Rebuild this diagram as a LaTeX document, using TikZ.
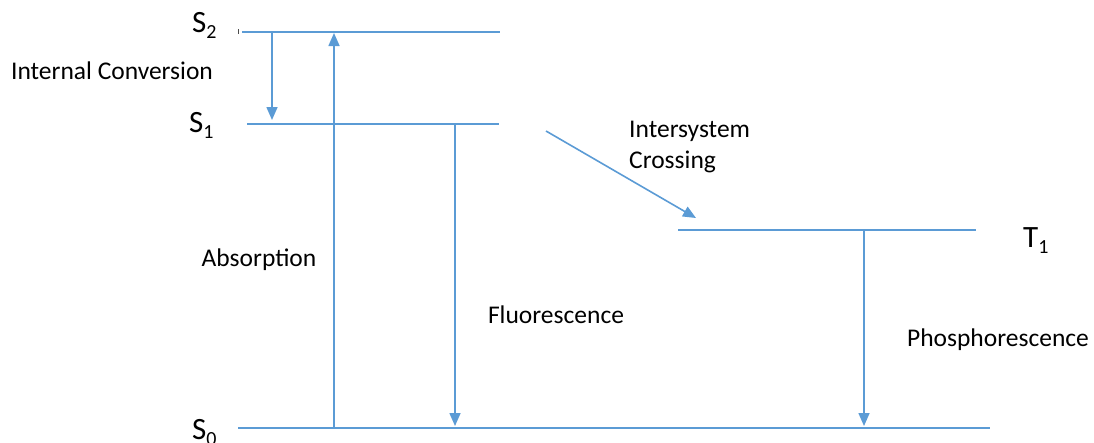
\documentclass[tikz,border=0pt]{standalone}
\usepackage{fontspec}
\setmainfont{Carlito}
\usetikzlibrary{arrows.meta}
\definecolor{lvl}{HTML}{5B9BD5}
\newcommand{\stsub}[2]{#1\raisebox{-0.22em}{\fontsize{20}{20}\selectfont #2}}
\tikzset{
  level/.style={draw=lvl, line width=1.6pt},
  trans/.style={draw=lvl, line width=1.6pt, -{Triangle[width=11pt,length=13pt]}},
  lab/.style={font=\fontsize{25.5}{31}\selectfont, inner sep=0pt},
  slab/.style={font=\fontsize{31}{34}\selectfont, inner sep=0pt, anchor=base west},
}
\begin{document}
\begin{tikzpicture}[x=1pt,y=-1pt]
\useasboundingbox (0,0) rectangle (1094,442);
% level end points
\coordinate (s2l) at (242,32);  \coordinate (s2r) at (500,32);
\coordinate (s1l) at (247,124); \coordinate (s1r) at (499,124);
\coordinate (t1l) at (678,230); \coordinate (t1r) at (976,230);
\coordinate (s0l) at (238,428); \coordinate (s0r) at (990,428);
\draw[level] (s2l) -- (s2r);
\draw[level] (s1l) -- (s1r);
\draw[level] (t1l) -- (t1r);
\draw[level] (s0l) -- (s0r);
\draw[line width=1.2pt, black!70] (238.5,29) -- (238.5,34);
% transition end points
\coordinate (icA) at (272,33);  \coordinate (icB) at (272,120);
\coordinate (abA) at (334,428); \coordinate (abB) at (334,33);
\coordinate (flA) at (455,124); \coordinate (flB) at (455,426);
\coordinate (isA) at (546,131); \coordinate (isB) at (696,218);
\coordinate (phA) at (864,230); \coordinate (phB) at (864,426);
\draw[trans] (icA) -- (icB);
\draw[trans] (abA) -- (abB);
\draw[trans] (flA) -- (flB);
\draw[trans] (isA) -- (isB);
\draw[trans] (phA) -- (phB);
% labels
\node[slab] (S2) at (192,32) {\stsub{S}{2}};
\node[slab] (S1) at (189,132) {\stsub{S}{1}};
\node[slab] (S0) at (192,439) {\stsub{S}{0}};
\node[slab] (T1) at (1023,247) {\stsub{T}{1}};
\node[lab] (ic) at (112,71) {Internal Conversion};
\node[lab, align=left, anchor=north west] (isc) at (629,121) {Intersystem\\Crossing};
\node[lab] (ab) at (259,260) {Absorption};
\node[lab] (fl) at (556,315) {Fluorescence};
\node[lab] (ph) at (998,340) {Phosphorescence};
\end{tikzpicture}
\end{document}
